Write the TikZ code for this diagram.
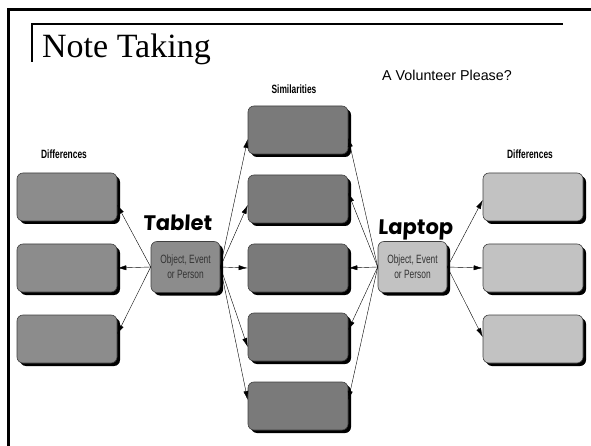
\documentclass[tikz,border=0pt]{standalone}
\usepackage{fontspec}
\setmainfont{Liberation Serif}
\setsansfont{Liberation Sans}
\newfontfamily\narrowfont[FakeStretch=0.7]{Liberation Sans}
\newfontfamily\handfont[FakeSlant=0.05]{Poppins}
\usetikzlibrary{arrows.meta,shadows}
\definecolor{simgray}{gray}{0.48}
\definecolor{difgray}{gray}{0.55}
\definecolor{litgray}{gray}{0.76}

\begin{document}
\begin{tikzpicture}[x=1pt,y=-1pt,
  box/.style={draw=black!75,line width=0.6pt,rounded corners=6pt,
    minimum width=100pt,minimum height=48pt,
    drop shadow={shadow xshift=3pt,shadow yshift=-3pt,fill=black,opacity=1}},
  objbox/.style={box,minimum width=69pt,minimum height=51pt,align=center,
    font=\narrowfont\fontsize{12}{15}\selectfont,text=black!80},
  head/.style={font=\narrowfont\bfseries\fontsize{12}{13}\selectfont},
  hand/.style={font=\handfont\bfseries\fontsize{21}{21}\selectfont,inner sep=0pt},
  link/.style={-{Latex[length=9pt,width=5pt]},line width=0.4pt}]
\useasboundingbox (0,0) rectangle (591,446);
% slide frame
\draw[line width=3pt] (8.5,446) -- (8.5,9.5) -- (591,9.5);
\draw[line width=1.2pt] (32,62) -- (32,24) -- (563,24);
\node[anchor=base west,font=\fontsize{34}{34}\selectfont,inner sep=0pt] (title) at (42,58) {Note Taking};
\node[anchor=west,font=\sffamily\fontsize{14.3}{16}\selectfont,inner sep=0pt] (volunteer) at (382,75) {A Volunteer Please?};
% headings
\node[head] (simhead) at (294,89) {Similarities};
\node[head] (difleft) at (64,154) {Differences};
\node[head] (difright) at (530,154) {Differences};
% boxes
\foreach \i/\y in {1/130,2/199,3/268,4/337,5/406}
  \node[box,fill=simgray] (s\i) at (298,\y) {};
\foreach \i/\y in {1/197,2/268,3/339} {
  \node[box,fill=difgray] (l\i) at (67,\y) {};
  \node[box,fill=litgray] (r\i) at (533,\y) {};
}
\node[objbox,fill=difgray] (tablet) at (185.5,267) {Object, Event\\or Person};
\node[objbox,fill=litgray] (laptop) at (412.5,267) {Object, Event\\or Person};
% handwritten notes
\node[hand,anchor=base west] (tabletnote) at (143,230) {Tablet};
\node[hand,anchor=base west] (laptopnote) at (378,235) {Laptop};
% arrows
\foreach \t/\s in {l1/-8,l2/0,l3/5}
  \draw[link] (tablet.west) -- ([yshift=\s pt]\t.east);
\foreach \t/\s in {s1/-9,s2/-6,s3/0,s4/-10,s5/6}
  \draw[link] (tablet.east) -- ([yshift=\s pt]\t.west);
\foreach \t/\s in {s1/-8,s2/6,s3/0,s4/7,s5/6}
  \draw[link] (laptop.west) -- ([yshift=\s pt]\t.east);
\foreach \t/\s in {r1/-3,r2/0,r3/2}
  \draw[link] (laptop.east) -- ([yshift=\s pt]\t.west);
\end{tikzpicture}
\end{document}
